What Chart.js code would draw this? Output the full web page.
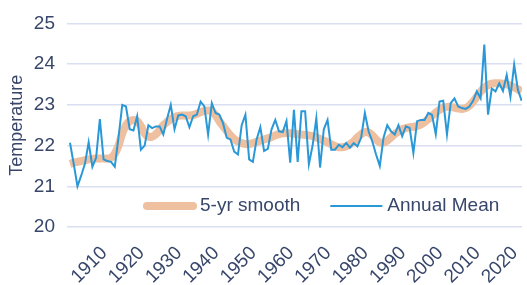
<!DOCTYPE html>
<html>
<head>
<meta charset="utf-8">
<script src="https://cdn.jsdelivr.net/npm/chart.js@4"></script>
<style>
html, body { margin: 0; padding: 0; background: #fff; }
</style>
</head>
<body>
<canvas id="tempChart" width="527" height="285"></canvas>
<script>
// Annual temperature, 1900 - 2021
const startYear = 1900;

const annualMean = [
    22.07, 21.55, 21.0, 21.26, 21.55, 22.08, 21.48, 21.7, 22.65, 21.66,
    21.62, 21.6, 21.48, 22.2, 23.0, 22.96, 22.4, 22.37, 22.72, 21.9,
    22.0, 22.5, 22.43, 22.47, 22.47, 22.27, 22.65, 23.0, 22.4, 22.74,
    22.76, 22.72, 22.45, 22.72, 22.76, 23.08, 22.96, 22.27, 23.04, 22.8,
    22.76, 22.55, 22.19, 22.15, 21.85, 21.78, 22.5, 22.76, 21.66, 21.6,
    22.15, 22.45, 21.87, 21.92, 22.4, 22.63, 22.35, 22.33, 22.6, 21.58,
    22.88, 21.6, 22.84, 22.84, 21.54, 22.0, 22.67, 21.46, 22.4, 22.63,
    21.9, 21.9, 22.02, 21.96, 22.06, 21.95, 22.06, 21.98, 22.19, 22.8,
    22.35, 22.1, 21.78, 21.5, 22.19, 22.5, 22.35, 22.27, 22.5, 22.23,
    22.47, 22.43, 21.82, 22.6, 22.63, 22.63, 22.8, 22.75, 22.28, 23.08,
    23.1, 22.27, 23.04, 23.16, 22.96, 22.92, 22.9, 22.96, 23.1, 23.33,
    23.16, 24.48, 22.76, 23.4, 23.33, 23.53, 23.34, 23.73, 23.2, 23.99,
    23.37, 23.1
];

const smooth5yr = [
    21.55, 21.58, 21.6, 21.62, 21.64, 21.66, 21.67, 21.68, 21.68, 21.68,
    21.68, 21.7, 21.8, 22.0, 22.3, 22.5, 22.6, 22.63, 22.6, 22.48,
    22.3, 22.22, 22.22, 22.28, 22.38, 22.5, 22.58, 22.65, 22.7, 22.73,
    22.74, 22.74, 22.74, 22.75, 22.78, 22.82, 22.85, 22.86, 22.84, 22.74,
    22.6, 22.48, 22.36, 22.25, 22.16, 22.1, 22.06, 22.04, 22.04, 22.06,
    22.09, 22.12, 22.15, 22.18, 22.21, 22.25, 22.28, 22.3, 22.31, 22.3,
    22.29, 22.28, 22.27, 22.26, 22.25, 22.23, 22.2, 22.16, 22.12, 22.08,
    22.03, 21.99, 21.96, 21.96, 21.98, 22.03, 22.1, 22.2, 22.28, 22.33,
    22.32, 22.25, 22.15, 22.08, 22.07, 22.12, 22.2, 22.28, 22.35, 22.4,
    22.43, 22.45, 22.46, 22.48, 22.52, 22.58, 22.65, 22.73, 22.81, 22.88,
    22.93, 22.95, 22.95, 22.93, 22.91, 22.9, 22.92, 22.98, 23.08, 23.2,
    23.32, 23.42, 23.49, 23.52, 23.53, 23.53, 23.52, 23.5, 23.47, 23.43,
    23.38, 23.33
];

const xTickYears = [1910, 1920, 1930, 1940, 1950, 1960, 1970, 1980, 1990, 2000, 2010, 2020];
const seriesLabels = ['5-yr smooth', 'Annual Mean'];

const years = annualMean.map((_, i) => startYear + i);
const textColor = '#37466A';
const fontFamily = '"Liberation Sans", Arial, sans-serif';

// legend sits inside the plot, under the lines
const legendInPlot = {
    id: 'legendInPlot',
    afterDraw(chart) {
        const { ctx, chartArea } = chart;
        const y = chartArea.bottom - 21;
        let x = chartArea.left + 76;
        ctx.save();
        ctx.font = '19px ' + fontFamily;
        ctx.textBaseline = 'middle';
        chart.data.datasets.forEach(ds => {
            const thick = ds.borderWidth > 4;
            ctx.strokeStyle = ds.borderColor;
            ctx.lineWidth = ds.borderWidth;
            ctx.lineCap = thick ? 'round' : 'butt';
            ctx.beginPath();
            ctx.moveTo(x + (thick ? 4 : 0), y);
            ctx.lineTo(x + (thick ? 50 : 52), y);
            ctx.stroke();
            x += 57;
            ctx.fillStyle = textColor;
            ctx.fillText(ds.label, x, y);
            x += ctx.measureText(ds.label).width + 30;
        });
        ctx.restore();
    }
};

new Chart(document.getElementById('tempChart'), {
    type: 'line',
    data: {
        datasets: [{
            label: seriesLabels[0],
            data: smooth5yr.map((v, i) => ({ x: years[i], y: v })),
            borderColor: '#EFC0A0',
            borderWidth: 8,
            tension: 0.4,
            pointRadius: 0,
            order: 2
        }, {
            label: seriesLabels[1],
            data: annualMean.map((v, i) => ({ x: years[i], y: v })),
            borderColor: '#2A98D6',
            borderWidth: 2,
            tension: 0,
            pointRadius: 0,
            order: 1
        }]
    },
    options: {
        responsive: false,
        animation: false,
        layout: {
            padding: { left: 6, top: 21, right: 5, bottom: 0 }
        },
        plugins: {
            legend: { display: false },
            tooltip: { enabled: false }
        },
        scales: {
            x: {
                type: 'linear',
                min: 1899.2,
                max: 2021.1,
                grid: { display: false },
                border: { display: false },
                afterBuildTicks: scale => {
                    scale.ticks = xTickYears.map(v => ({ value: v }));
                },
                afterFit: scale => {
                    // rotated labels end at the tick, no side room needed
                    scale.height = 58;
                    scale.paddingLeft = 0;
                    scale.paddingRight = 0;
                },
                ticks: {
                    autoSkip: false,
                    maxRotation: 45,
                    minRotation: 45,
                    padding: 7,
                    labelOffset: -3,
                    color: textColor,
                    font: { size: 19, family: fontFamily },
                    callback: value => String(value)
                }
            },
            y: {
                min: 20,
                max: 25,
                grid: {
                    color: '#D9DFF0',
                    lineWidth: 1.5,
                    drawTicks: false
                },
                border: { display: false },
                afterFit: scale => { scale.width = 61; },
                ticks: {
                    stepSize: 1,
                    padding: 12,
                    color: textColor,
                    font: { size: 19, family: fontFamily }
                },
                title: {
                    display: true,
                    text: 'Temperature',
                    color: textColor,
                    padding: 0,
                    font: { size: 18, family: fontFamily }
                }
            }
        }
    },
    plugins: [legendInPlot]
});
</script>
</body>
</html>
